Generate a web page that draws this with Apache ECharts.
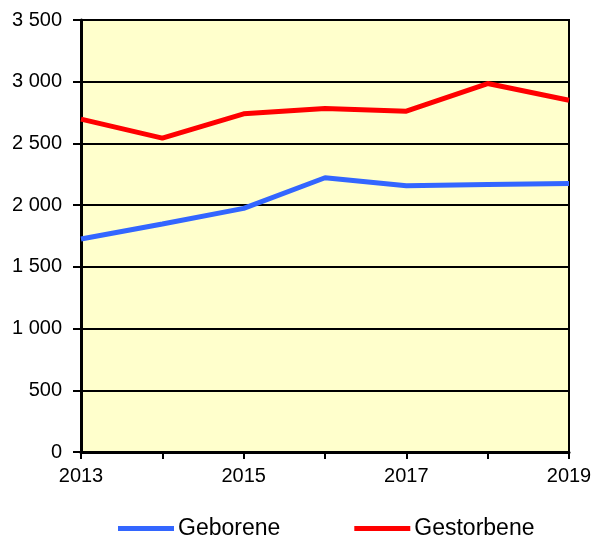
<!DOCTYPE html>
<html>
<head>
<meta charset="utf-8">
<script src="https://cdn.jsdelivr.net/npm/echarts@6/dist/echarts.min.js"></script>
<style>
  html, body { margin: 0; padding: 0; background: #ffffff; }
  #chart { width: 595px; height: 540px; }
</style>
</head>
<body>
<div id="chart"></div>
<script>
// Births and deaths per year
const years = ['2013', '2014', '2015', '2016', '2017', '2018', '2019'];
const geborene = [1726, 1847, 1974, 2222, 2157, 2168, 2176];
const gestorbene = [2697, 2543, 2740, 2783, 2761, 2985, 2850];
const seriesNames = ['Geborene', 'Gestorbene'];

// thousands separated by a space
const fmt = v => String(v).replace(/\B(?=(\d{3})+(?!\d))/g, ' ');

const chart = echarts.init(document.getElementById('chart'), null, { renderer: 'canvas' });
const font = 'Liberation Sans, Arial, sans-serif';

chart.setOption({
  animation: false,
  backgroundColor: '#ffffff',
  textStyle: { fontFamily: font },
  grid: {
    left: 81, right: 26, top: 20, bottom: 88,
    show: true,
    backgroundColor: '#FFFFCC',
    borderColor: '#000000',
    borderWidth: 2
  },
  legend: {
    top: 512,
    left: 113,
    data: seriesNames,
    icon: 'rect',
    itemWidth: 56,
    itemHeight: 5,
    itemGap: 74,
    textStyle: { fontSize: 23, color: '#000000', fontFamily: font, padding: [2, 0, 0, -1] }
  },
  xAxis: {
    type: 'category',
    data: years,
    boundaryGap: false,
    axisLine: { lineStyle: { color: '#000000', width: 3 } },
    axisTick: { show: true, interval: 0, length: 7, lineStyle: { color: '#000000', width: 2 } },
    axisLabel: { interval: 1, color: '#000000', fontSize: 20, margin: 14, fontFamily: font },
    splitLine: { show: false }
  },
  yAxis: {
    type: 'value',
    min: 0, max: 3500, interval: 500,
    axisLine: { show: true, lineStyle: { color: '#000000', width: 3 } },
    axisTick: { show: true, length: 8, lineStyle: { color: '#000000', width: 2 } },
    axisLabel: { color: '#000000', fontSize: 20, margin: 19, fontFamily: font, formatter: fmt },
    splitLine: { show: true, lineStyle: { color: '#000000', width: 2 } }
  },
  series: [
    {
      name: seriesNames[0], type: 'line', data: geborene,
      symbol: 'none', color: '#3366FF',
      lineStyle: { width: 5, color: '#3366FF' }
    },
    {
      name: seriesNames[1], type: 'line', data: gestorbene,
      symbol: 'none', color: '#FF0000',
      lineStyle: { width: 5, color: '#FF0000' }
    }
  ]
});
</script>
</body>
</html>
